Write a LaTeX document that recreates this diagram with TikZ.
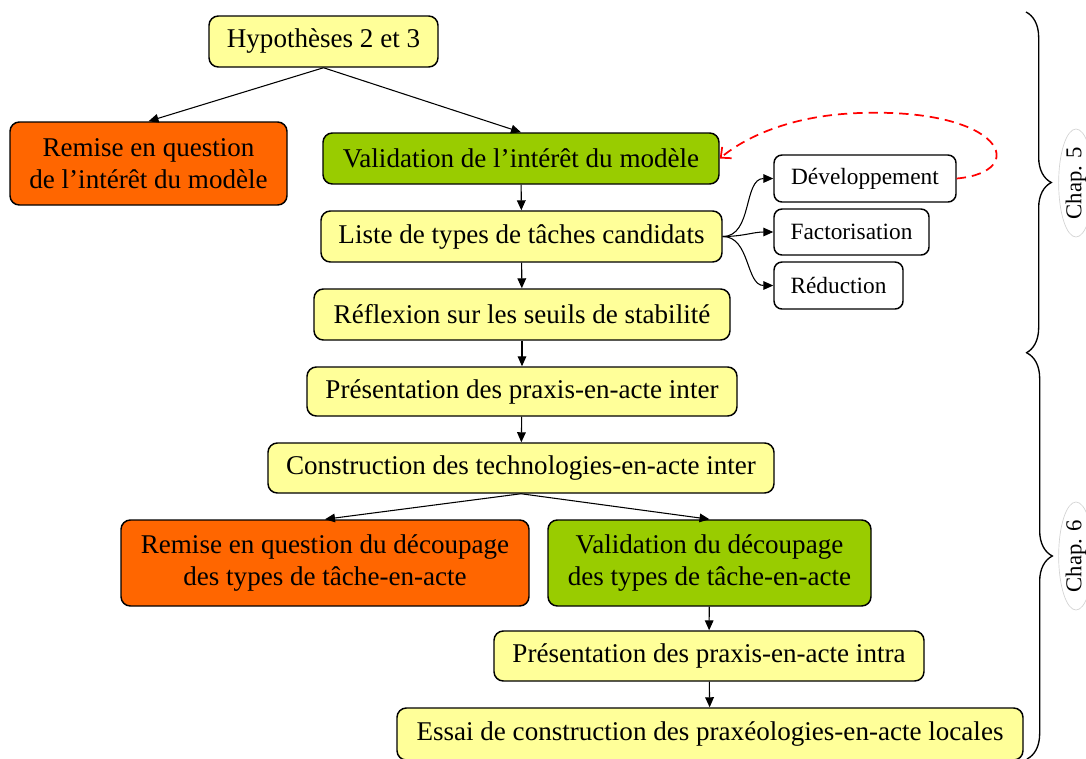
\documentclass[tikz,border=0pt]{standalone}
\usepackage{fontspec}
\setmainfont{Liberation Serif}
\usetikzlibrary{arrows.meta,decorations.pathreplacing,shapes.geometric}
\definecolor{boxyellow}{HTML}{FFFF99}
\definecolor{boxorange}{HTML}{FF6600}
\definecolor{boxgreen}{HTML}{99CC00}
\begin{document}
\begin{tikzpicture}[x=0.75pt,y=-0.75pt,
 base/.style={draw=black, line width=1.1pt, rounded corners=7pt, inner sep=0pt, align=center, font=\fontsize{20.3}{23.5}\selectfont},
 ybox/.style={base, fill=boxyellow},
 obox/.style={base, fill=boxorange},
 gbox/.style={base, fill=boxgreen},
 wbox/.style={base, fill=white, rounded corners=6pt, font=\fontsize{17.5}{21}\selectfont},
 arr/.style={-{Triangle[length=7.5pt,width=6.5pt]}, line width=0.8pt},
 brc/.style={decorate, decoration={brace, amplitude=19pt}, line width=1pt},
 chap/.style={ellipse, draw=gray!35, line width=0.5pt, rotate=90, font=\fontsize{17}{20}\selectfont, inner sep=1.5pt}
]
\useasboundingbox (0,0) rectangle (1086,758);

\node[ybox, minimum width=229*0.75pt, minimum height=51*0.75pt] (hyp) at (323.5,41.5) {Hypothèses 2 et 3};
\node[obox, minimum width=277*0.75pt, minimum height=83*0.75pt] (rq1) at (148.5,163.5) {Remise en question\\de l’intérêt du modèle};
\node[gbox, minimum width=396*0.75pt, minimum height=51*0.75pt] (val1) at (521,158.5) {Validation de l’intérêt du modèle};
\node[ybox, minimum width=401*0.75pt, minimum height=51*0.75pt] (liste) at (521.5,236.5) {Liste de types de tâches candidats};
\node[ybox, minimum width=416*0.75pt, minimum height=51*0.75pt] (refl) at (522,314.5) {Réflexion sur les seuils de stabilité};
\node[ybox, minimum width=430*0.75pt, minimum height=49*0.75pt] (pres) at (522,391.5) {Présentation des praxis-en-acte inter};
\node[ybox, minimum width=506*0.75pt, minimum height=50*0.75pt] (cons) at (521,468) {Construction des technologies-en-acte inter};
\node[obox, minimum width=408*0.75pt, minimum height=86*0.75pt] (rq2) at (325,563) {Remise en question du découpage\\des types de tâche-en-acte};
\node[gbox, minimum width=323*0.75pt, minimum height=86*0.75pt] (val2) at (709.5,563) {Validation du découpage\\des types de tâche-en-acte};
\node[ybox, minimum width=430*0.75pt, minimum height=50*0.75pt] (intra) at (709,656) {Présentation des praxis-en-acte intra};
\node[ybox, minimum width=626*0.75pt, minimum height=52*0.75pt] (essai) at (710,734) {Essai de construction des praxéologies-en-acte locales};

\node[wbox, minimum width=182*0.75pt, minimum height=47*0.75pt] (dev) at (865,178.5) {Développement};
\node[wbox, minimum width=155*0.75pt, minimum height=46*0.75pt] (fact) at (851.5,232) {Factorisation};
\node[wbox, minimum width=129*0.75pt, minimum height=47*0.75pt] (red) at (838.5,285.5) {Réduction};

\draw[arr] (hyp.south) -- (rq1.north);
\draw[arr] (hyp.south) -- (val1.north);
\draw[arr] (val1) -- (liste);
\draw[arr] (liste) -- (refl);
\draw[arr] (refl) -- (pres);
\draw[arr] (pres) -- (cons);
\draw[arr] (cons.south) -- (rq2.north);
\draw[arr] (cons.south) -- (val2.north);
\draw[arr] (val2) -- (intra);
\draw[arr] (intra) -- (essai);

\draw[arr] (liste.east) to[out=0,in=180] (dev.west);
\draw[arr] (liste.east) to[out=0,in=180] (fact.west);
\draw[arr] (liste.east) to[out=0,in=180] (red.west);

\coordinate (top) at (860,113);
\draw[red, line width=1.3pt, dash pattern=on 7pt off 4.5pt, -{Straight Barb[length=6pt,width=11pt]}]
  (dev.east) .. controls (1030,172) and (1005,108) .. (top)
  .. controls (795,115) and (748,135) .. (val1.east);

\coordinate (b1a) at (1026,12);
\coordinate (b1b) at (1026,353);
\coordinate (b2a) at (1027,353);
\coordinate (b2b) at (1027,759);
\draw[brc] (b1a) -- (b1b);
\draw[brc] (b2a) -- (b2b);

\node[chap] (c5) at (1076,183) {Chap. 5};
\node[chap] (c6) at (1076,556) {Chap. 6};
\end{tikzpicture}
\end{document}
